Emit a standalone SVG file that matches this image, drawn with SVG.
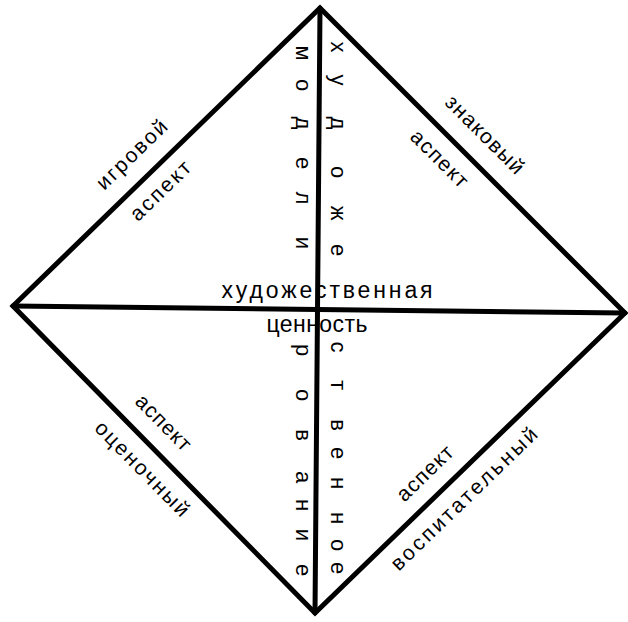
<svg xmlns="http://www.w3.org/2000/svg" width="628" height="622" viewBox="0 0 628 622">
<style>
.ln{fill:none;stroke:#000;stroke-width:5;stroke-linejoin:miter;stroke-linecap:round}
.t{font-family:"Liberation Sans","DejaVu Sans",sans-serif;fill:#000;text-anchor:middle}
.d{font-size:21px}
.v{font-size:22px}
.c{font-size:23px}
</style>
<rect width="628" height="622" fill="#fff"/>
<g id="connectors">
<polygon class="ln" points="320,8 625,313 315,613 13,306"/>
<line class="ln" x1="13" y1="306" x2="625" y2="313"/>
<line class="ln" x1="320" y1="8" x2="315" y2="613"/>
</g>
<g id="upper-left" transform="translate(13,306) rotate(-44.15)">
<text class="t d" x="190.6" y="-19" textLength="90" lengthAdjust="spacing">игровой</text>
<text class="t d" x="186" y="27" textLength="76" lengthAdjust="spacing">аспект</text>
</g>
<g id="upper-right" transform="translate(320,8) rotate(45)">
<text class="t d" x="206" y="-20" textLength="102" lengthAdjust="spacing">знаковый</text>
<text class="t d" x="191" y="29" textLength="72" lengthAdjust="spacing">аспект</text>
</g>
<g id="lower-left" transform="translate(13,306) rotate(45.47)">
<text class="t d" x="188.6" y="-18.5" textLength="70" lengthAdjust="spacing">аспект</text>
<text class="t d" x="206.7" y="29" textLength="125" lengthAdjust="spacing">оценочный</text>
</g>
<g id="lower-right" transform="translate(315,613) rotate(-44.06)">
<text class="t d" x="176" y="-17" textLength="70" lengthAdjust="spacing">аспект</text>
<text class="t d" x="186.4" y="28.5" textLength="195" lengthAdjust="spacing">воспитательный</text>
</g>
<g id="center">
<text class="t c" x="327" y="298" textLength="211" lengthAdjust="spacing">художественная</text>
<text class="t c" x="317" y="332" textLength="101" lengthAdjust="spacing">ценность</text>
</g>
<g id="vertical-right" transform="rotate(90)">
<text class="t v" y="-331" x="47 80 123 172 213 250 347 385 425 453 483 518 545 568">художественное</text>
</g>
<g id="vertical-left" transform="rotate(90)">
<text class="t v" y="-296" x="53 85 123 163 198 243 350 395 435 477 505 535 570">моделирование</text>
</g>
</svg>
